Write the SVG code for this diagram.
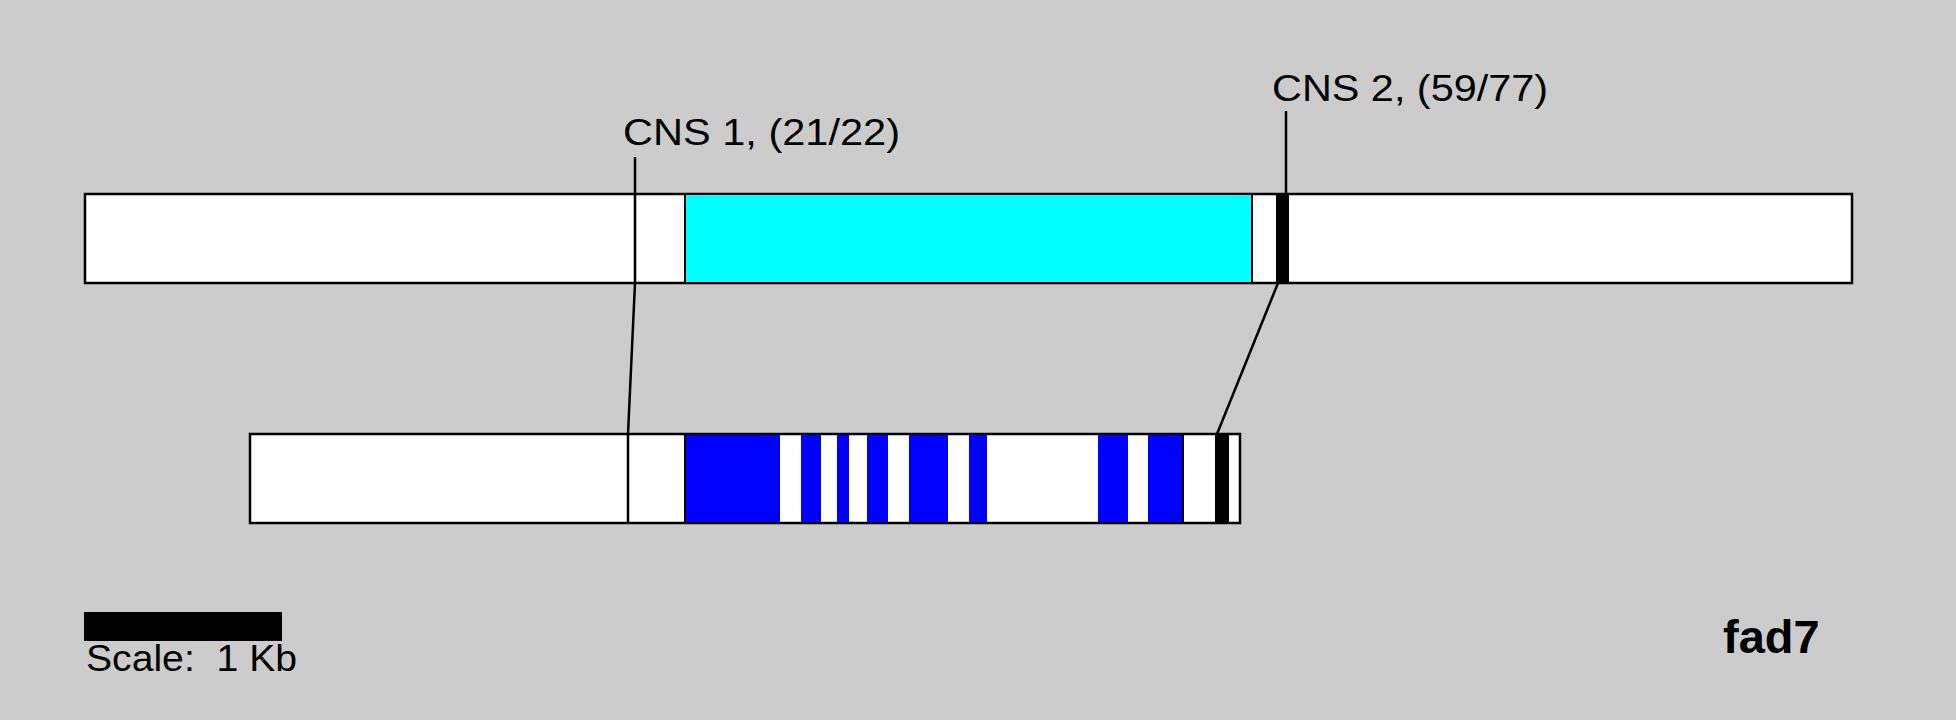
<svg xmlns="http://www.w3.org/2000/svg" width="1956" height="720" viewBox="0 0 1956 720">
  <style>
    .bar { fill: #ffffff; stroke: #000000; stroke-width: 2.5; }
    .div { stroke: #000000; stroke-width: 2; fill: none; }
    .conn { stroke: #000000; stroke-width: 2.5; fill: none; }
    .blk { fill: #000000; }
    .cyan { fill: #00ffff; }
    .blue { fill: #0000ff; }
    .lbl { font-family: "Liberation Sans", "DejaVu Sans", sans-serif; font-size: 37px; fill: #000000; white-space: pre; }
    .title { font-family: "Liberation Sans", Arial, sans-serif; font-size: 47px; font-weight: bold; fill: #000000; }
  </style>
  <rect x="0" y="0" width="1956" height="720" fill="#cccccc"/>

  <g id="top-bar">
    <rect class="bar" x="85" y="194" width="1767" height="89"/>
    <rect class="cyan" x="685" y="195" width="567" height="87"/>
    <line class="div" x1="685" y1="194" x2="685" y2="283"/>
    <line class="div" x1="1252" y1="194" x2="1252" y2="283"/>
    <rect class="blk" x="1276" y="194" width="13" height="89"/>
  </g>

  <g id="bottom-bar">
    <rect class="bar" x="250" y="434" width="990" height="89"/>
    <rect class="blue" x="685" y="435" width="95" height="87"/>
    <rect class="blue" x="801" y="435" width="20" height="87"/>
    <rect class="blue" x="837" y="435" width="12" height="87"/>
    <rect class="blue" x="867" y="435" width="21" height="87"/>
    <rect class="blue" x="909" y="435" width="39" height="87"/>
    <rect class="blue" x="969" y="435" width="18" height="87"/>
    <rect class="blue" x="1098" y="435" width="30" height="87"/>
    <rect class="blue" x="1148" y="435" width="35" height="87"/>
    <line class="div" x1="685" y1="434" x2="685" y2="523"/>
    <line class="div" x1="1183" y1="434" x2="1183" y2="523"/>
    <rect class="blk" x="1215" y="434" width="14" height="89"/>
  </g>

  <g id="connectors">
    <polyline class="conn" points="635,157 635,283 628,434 628,523"/>
    <polyline class="conn" points="1286,111 1286,194"/>
    <line class="conn" x1="1278" y1="283" x2="1217" y2="434"/>
  </g>

  <g id="label-cns1">
    <text class="lbl" x="623" y="145" textLength="277" lengthAdjust="spacingAndGlyphs">CNS 1, (21/22)</text>
  </g>
  <g id="label-cns2">
    <text class="lbl" x="1272" y="101" textLength="276" lengthAdjust="spacingAndGlyphs">CNS 2, (59/77)</text>
  </g>

  <g id="scale">
    <rect class="blk" x="84" y="612" width="198" height="29"/>
    <text class="lbl" x="86" y="671" textLength="211" lengthAdjust="spacingAndGlyphs">Scale:  1 Kb</text>
  </g>

  <g id="title">
    <text class="title" x="1723" y="653">fad7</text>
  </g>
</svg>
